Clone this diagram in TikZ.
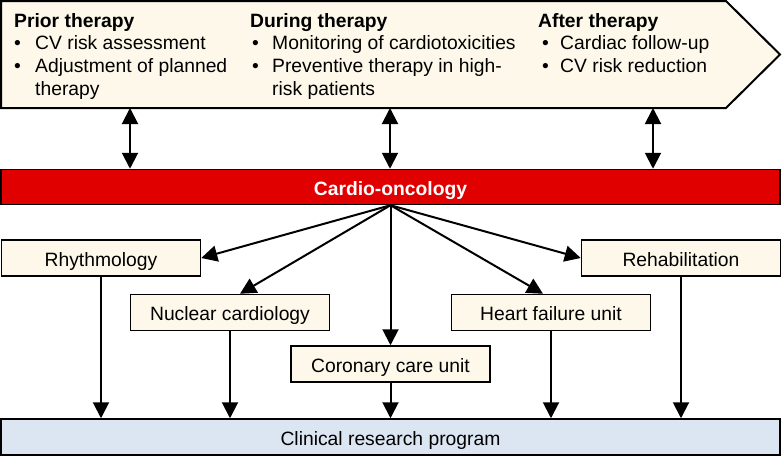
\documentclass[tikz,border=0pt]{standalone}
\usepackage{fontspec}
\setmainfont{Liberation Sans}
\usepackage{xcolor}
\usepackage{tikz}
\usetikzlibrary{arrows.meta,positioning,calc}

\definecolor{cream}{HTML}{FDF8E9}
\definecolor{oncored}{HTML}{E00000}
\definecolor{paleblue}{HTML}{DCE6F2}
\newcommand{\figfont}{\fontsize{19.3}{22.7}\selectfont}

\begin{document}
\begin{tikzpicture}[
    x=1pt, y=-1pt,
    font=\figfont,
    unit/.style = {draw, line width=1.5pt, fill=cream, minimum width=199pt, minimum height=36pt,
                   inner sep=0pt, text height=16pt, text depth=0pt},
    wide/.style = {draw, line width=1.5pt, minimum width=779pt, minimum height=35pt,
                   inner sep=0pt, text height=16pt, text depth=0pt},
    phase/.style = {anchor=base west, inner sep=0pt, align=left},
    link/.style = {->, line width=2pt},
    >={Triangle[length=16pt,width=16pt]}
  ]
  \useasboundingbox (0,0) rectangle (782,456);

  % phases of therapy
  \draw[line width=2pt, fill=cream] (1,1) -- (726,1) -- (780,54.5) -- (726,108) -- (1,108) -- cycle;
  \node[phase] (prior) at (14,27) {\begin{tabular}[t]{@{}p{21pt}@{}l@{}}
    \multicolumn{2}{@{}l@{}}{\bfseries Prior therapy}\\
    \textbullet & CV risk assessment\\
    \textbullet & Adjustment of planned\\
                & therapy
  \end{tabular}};
  \node[phase] (during) at (250,27) {\begin{tabular}[t]{@{}p{22pt}@{}l@{}}
    \multicolumn{2}{@{}l@{}}{\bfseries During therapy}\\
    \hspace{2pt}\textbullet & Monitoring of cardiotoxicities\\
    \hspace{2pt}\textbullet & Preventive therapy in high-\\
                & risk patients
  \end{tabular}};
  \node[phase] (after) at (538,27) {\begin{tabular}[t]{@{}p{22pt}@{}l@{}}
    \multicolumn{2}{@{}l@{}}{\bfseries After therapy}\\
    \hspace{4pt}\textbullet & Cardiac follow-up\\
    \hspace{4pt}\textbullet & CV risk reduction
  \end{tabular}};
  \coordinate (c1) at (130,108);
  \coordinate (c2) at (390,108);
  \coordinate (c3) at (653,108);

  % cardio-oncology
  \node[wide, fill=oncored, text=white, font=\figfont\bfseries] (onco) at (390.5,187) {Cardio-oncology};
  \foreach \c in {c1,c2,c3}
    \draw[<->, line width=2pt] (\c) -- (\c |- onco.north);

  % units
  \node[unit] (rhythm) at (101,258) {Rhythmology};
  \node[unit] (nuclear) at (230,312.5) {Nuclear cardiology};
  \node[unit] (coronary) at (390.5,364) {Coronary care unit};
  \node[unit] (heart) at (551,312.5) {Heart failure unit};
  \node[unit] (rehab) at (681,258) {Rehabilitation};
  \node[wide, fill=paleblue, minimum height=36pt] (clinic) at (390.5,437) {Clinical research program};

  \draw[link] (onco.south) -- (rhythm.east);
  \draw[link] (onco.south) -- ([xshift=10pt]nuclear.north);
  \draw[link] (onco.south) -- (coronary.north);
  \draw[link] (onco.south) -- ([xshift=-8pt]heart.north);
  \draw[link] (onco.south) -- (rehab.west);
  \foreach \u in {rhythm,nuclear,coronary,heart,rehab}
    \draw[link] (\u.south) -- (\u.south |- clinic.north);
\end{tikzpicture}
\end{document}
